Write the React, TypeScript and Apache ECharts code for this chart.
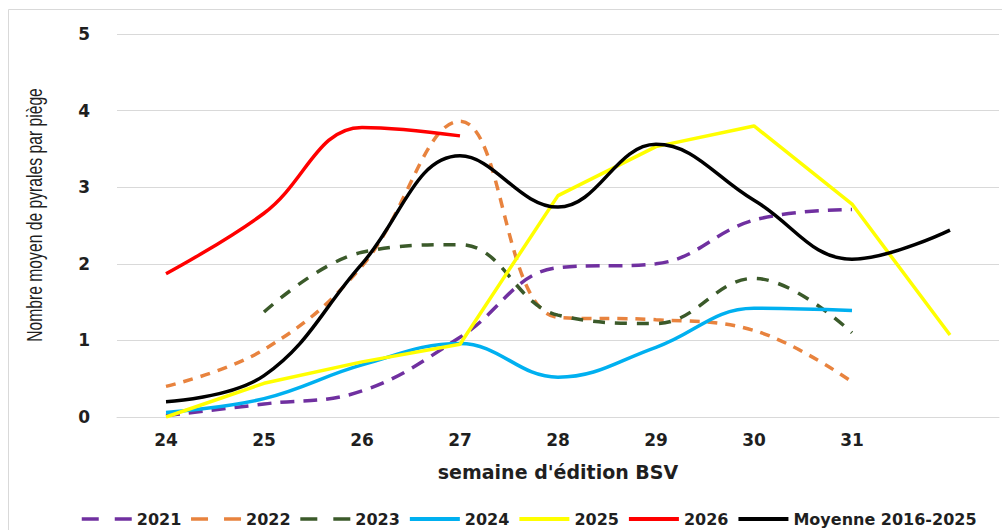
import React, { useEffect, useRef } from "react";
import * as echarts from "echarts";

const weeks = ["24", "25", "26", "27", "28", "29", "30", "31", ""];
const yTicks = [0, 1, 2, 3, 4, 5];

const s2021 = [0.02, 0.17, 0.34, 1.04, 1.95, 2.0, 2.57, 2.71, null];
const s2022 = [0.4, 0.88, 1.97, 3.86, 1.3, 1.27, 1.13, 0.46, null];
const s2023 = [null, 1.37, 2.15, 2.25, 1.33, 1.22, 1.81, 1.1, null];
const s2024 = [0.06, 0.24, 0.68, 0.96, 0.52, 0.91, 1.42, 1.39, null];
const s2025 = [0.0, 0.44, 0.72, 0.95, 2.89, 3.53, 3.8, 2.78, 1.07];
const s2026 = [1.87, 2.66, 3.78, 3.67, null, null, null, null, null];
const sMoy = [0.2, 0.54, 2.0, 3.41, 2.74, 3.56, 2.83, 2.06, 2.44];

const seriesNames = ["2021", "2022", "2023", "2024", "2025", "2026", "Moyenne 2016-2025"];
const dashedNames = ["2021", "2022", "2023"];

export default function App() {
  const ref = useRef<HTMLDivElement>(null);
  useEffect(() => {
    if (!ref.current) return;
    const chart = echarts.init(ref.current, null, { renderer: "svg" });
    const font = "'DejaVu Sans', 'Open Sans', sans-serif";
    const txt = "#1f1f1f";
    const mk = (name: string, data: any[], color: string, width: number, type: any, smooth: any) => ({
      name,
      type: "line",
      data,
      smooth,
      symbol: "none",
      connectNulls: false,
      lineStyle: { color, width, type, cap: "butt" },
      itemStyle: { color },
    });
    chart.setOption({
      animation: false,
      backgroundColor: "#ffffff",
      grid: { left: 117, right: 3, top: 34, bottom: 113 },
      legend: {
        top: 506,
        left: 75,
        itemWidth: 50,
        itemHeight: 10,
        itemGap: 8,
        itemStyle: { opacity: 0 },
        data: seriesNames.map((n) => ({
          name: n,
          itemStyle: { opacity: 0 },
          lineStyle: dashedNames.includes(n) ? { type: [17, 16], width: 3.5 } : { width: 4 },
        })),
        textStyle: { fontFamily: font, fontWeight: "bold", fontSize: 16, color: txt },
      },
      graphic: [
        {
          type: "rect",
          shape: { x: 8.5, y: 9.5, width: 1000, height: 540 },
          style: { fill: "none", stroke: "#d9d9d9", lineWidth: 1 },
          silent: true,
        },
        {
          type: "text",
          x: 35,
          y: 215,
          rotation: Math.PI / 2,
          scaleY: 1.4,
          style: {
            text: "Nombre moyen de pyrales par piège",
            fontFamily: "'Liberation Sans', Arial, sans-serif",
            fontSize: 15.7,
            fill: txt,
            align: "center",
            verticalAlign: "middle",
          },
        },
      ],
      xAxis: {
        type: "category",
        data: weeks,
        boundaryGap: true,
        name: "semaine d'édition BSV",
        nameLocation: "middle",
        nameGap: 45,
        nameTextStyle: { fontFamily: font, fontWeight: "bold", fontSize: 19, color: txt },
        axisLine: { show: true, lineStyle: { color: "#d9d9d9", width: 1 } },
        axisTick: { show: false },
        axisLabel: { fontFamily: font, fontWeight: "bold", fontSize: 17, color: txt, margin: 14 },
      },
      yAxis: {
        type: "value",
        min: yTicks[0],
        max: yTicks[yTicks.length - 1],
        interval: 1,
        axisLine: { show: false },
        axisTick: { show: false },
        splitLine: { lineStyle: { color: "#d9d9d9", width: 1 } },
        axisLabel: { fontFamily: font, fontWeight: "bold", fontSize: 17, color: txt, margin: 27 },
      },
      series: [
        mk("2021", s2021, "#7030A0", 3.5, [14, 9], 0.4),
        mk("2022", s2022, "#E8833E", 3.5, [10, 8], 0.4),
        mk("2023", s2023, "#3B5A2A", 3.5, [12, 10], 0.4),
        mk("2024", s2024, "#00B0F0", 3.5, "solid", 0.4),
        mk("2025", s2025, "#FFFF00", 3.5, "solid", false),
        mk("2026", s2026, "#FF0000", 3.5, "solid", 0.4),
        mk("Moyenne 2016-2025", sMoy, "#000000", 3.5, "solid", 0.4),
      ],
    });
    return () => chart.dispose();
  }, []);
  return (
    <div
      ref={ref}
      style={{ position: "fixed", left: 0, top: 0, width: 1002, height: 530 }}
    />
  );
}
